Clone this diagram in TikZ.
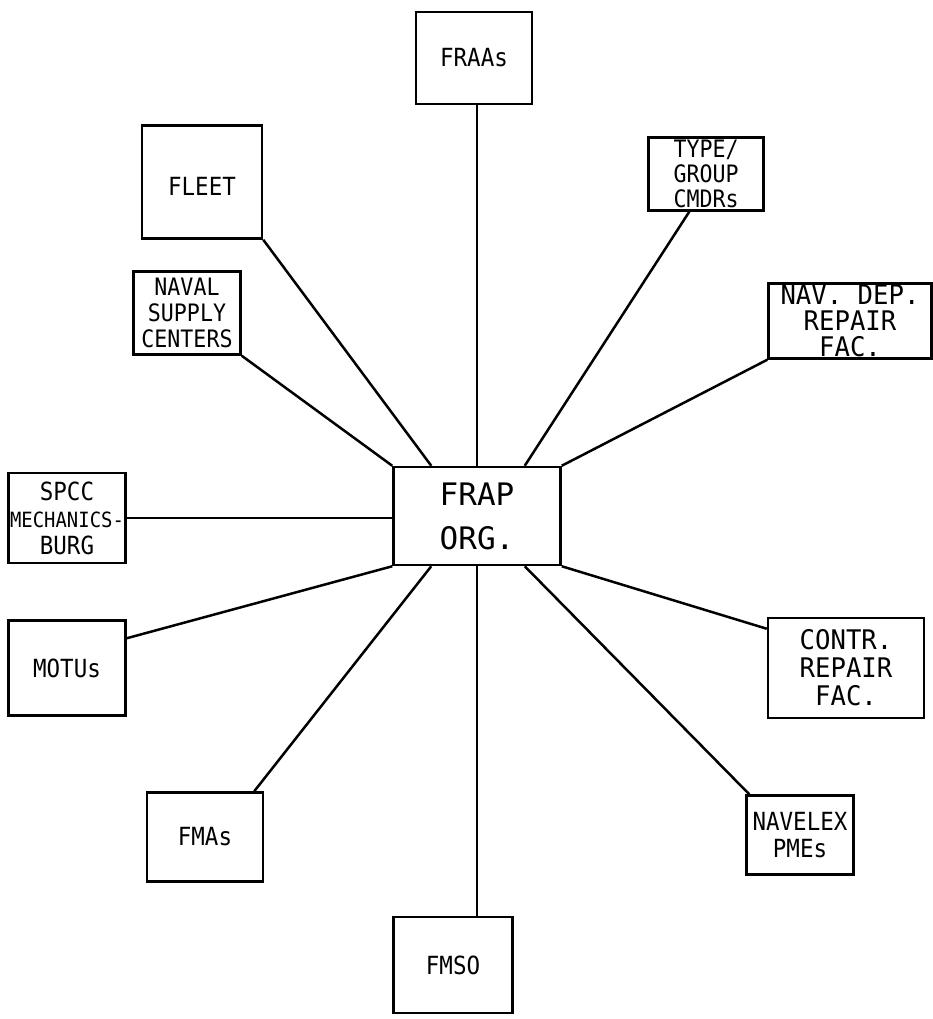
\documentclass[tikz,border=0pt]{standalone}
\usepackage{fontspec}
\setmainfont{DejaVu Sans Mono}
\newfontfamily\plotfont[FakeStretch=0.9]{DejaVu Sans Mono}
\newfontfamily\widefont[FakeStretch=0.95]{DejaVu Sans Mono}
\usetikzlibrary{calc}
\begin{document}
\begin{tikzpicture}[x=1pt,y=-1pt,
  box/.style={draw,line width=2.5pt,align=center,inner sep=0pt,font=\plotfont\fontsize{25}{27}\selectfont},
  wide/.style={font=\widefont\fontsize{27}{26}\selectfont},
  link/.style={line width=2.5pt}]
\useasboundingbox (0,0) rectangle (932,1019);
\node[box,minimum width=116pt,minimum height=92pt] (fraas) at (474,58) {FRAAs};
\node[box,minimum width=120pt,minimum height=113pt] (fleet) at (202,182) {\\FLEET};
\node[box,minimum width=115pt,minimum height=73pt,font=\plotfont\fontsize{24}{25}\selectfont] (type) at (706,174) {TYPE/\\GROUP\\CMDRs};
\node[box,minimum width=107pt,minimum height=83pt,font=\plotfont\fontsize{24}{26}\selectfont] (naval) at (187,313) {NAVAL\\SUPPLY\\CENTERS};
\node[box,wide,minimum width=163pt,minimum height=75pt] (navdep) at (850,321) {NAV. DEP.\\REPAIR\\FAC.};
\node[box,minimum width=167pt,minimum height=98pt,font=\fontsize{31}{44}\selectfont] (frap) at (477,516) {FRAP\\ORG.};
\node[box,minimum width=117pt,minimum height=90pt] (spcc) at (67,518) {SPCC\\{\fontsize{21}{28}\selectfont MECHANICS-}\\BURG};
\node[box,minimum width=117pt,minimum height=95pt] (motus) at (67,668) {MOTUs};
\node[box,wide,minimum width=156pt,minimum height=100pt,font=\widefont\fontsize{27}{28}\selectfont] (contr) at (846,668) {CONTR.\\REPAIR\\FAC.};
\node[box,minimum width=116pt,minimum height=89pt] (fmas) at (205,837) {FMAs};
\node[box,minimum width=107pt,minimum height=79pt] (navelex) at (800,835) {NAVELEX\\PMEs};
\node[box,minimum width=119pt,minimum height=96pt] (fmso) at (453,965) {FMSO};
\draw[link] (frap.north) -- (frap.north |- fraas.south);
\draw[link] (fleet.south east) -- ($(frap.north west)+(39,0)$);
\draw[link] ($(type.south west)+(42,0)$) -- ($(frap.north east)+(-37,0)$);
\draw[link] (naval.south east) -- (frap.north west);
\draw[link] (navdep.south west) -- (frap.north east);
\draw[link] (spcc.east) -- (frap.west |- spcc.east);
\draw[link] ($(motus.north east)+(0,19)$) -- (frap.south west);
\draw[link] ($(contr.north west)+(0,12)$) -- (frap.south east);
\draw[link] ($(fmas.north east)+(-10,0)$) -- ($(frap.south west)+(39,0)$);
\draw[link] ($(navelex.north west)+(4,0)$) -- ($(frap.south east)+(-37,0)$);
\draw[link] (frap.south) -- (frap.south |- fmso.north);
\end{tikzpicture}
\end{document}
